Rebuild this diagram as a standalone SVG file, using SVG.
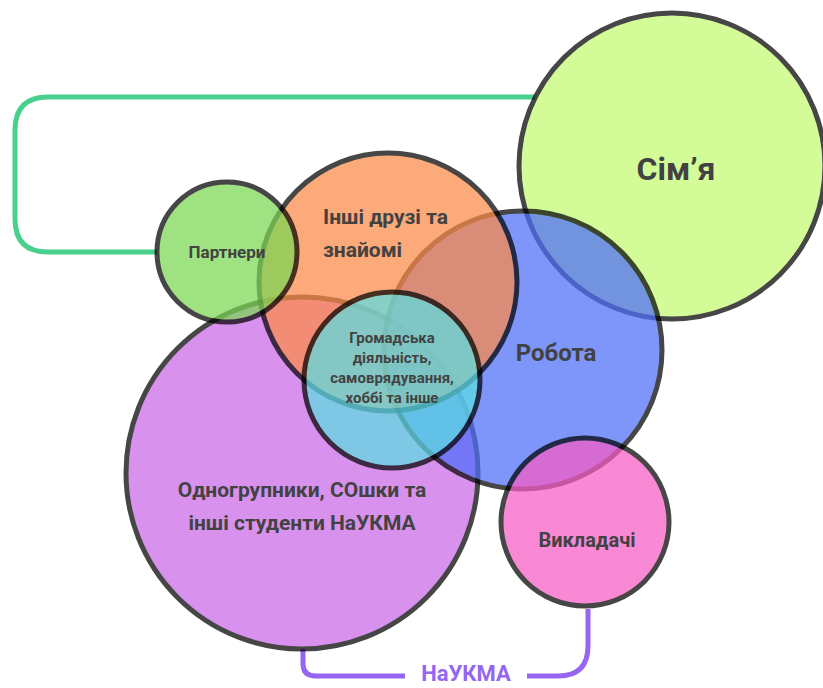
<svg xmlns="http://www.w3.org/2000/svg" width="823" height="688" viewBox="0 0 823 688">
<style>
.c{stroke:#000;stroke-width:5;opacity:0.72}
.t{font-family:Roboto,"Liberation Sans",sans-serif;font-weight:bold;fill:#424242}
.conn{fill:none;stroke-width:5;stroke-linecap:butt;stroke-linejoin:round}
</style>
<rect width="823" height="688" fill="#fff"/>
<g id="connectors">
<path class="conn" stroke="#48d08c" stroke-width="6" d="M535 97 H48 Q15 97 15 130 V219 Q15 252 48 252 H157"/>
<path class="conn" stroke="#9466f2" d="M303 649 V664 Q303 676 316 676 H405"/>
<path class="conn" stroke="#9466f2" d="M527 676 H558 Q588 676 588 646 V609"/>
<text class="t" x="466" y="681" font-size="22" text-anchor="middle" style="fill:#9466f2">НаУКМА</text>
</g>
<g id="simya">
<circle class="c" cx="672" cy="166" r="153" fill="#c3fb73"/>
<text class="t" x="676" y="180" font-size="32" text-anchor="middle">Сім’я</text>
</g>
<g id="odnogrupnyky">
<circle class="c" cx="302" cy="473" r="176" fill="#ca69e7"/>
<text class="t" x="302" y="497" font-size="21" text-anchor="middle">Одногрупники, СОшки та</text>
<text class="t" x="302" y="530" font-size="21" text-anchor="middle">інші студенти НаУКМА</text>
</g>
<g id="robota">
<circle class="c" cx="523" cy="350" r="139" fill="#4d6df9"/>
<text class="t" x="556" y="361" font-size="24" text-anchor="middle">Робота</text>
</g>
<g id="druzi">
<circle class="c" cx="388" cy="282" r="129" fill="#fc8a48"/>
<text class="t" x="323" y="224" font-size="21">Інші друзі та</text>
<text class="t" x="323" y="257" font-size="21">знайомі</text>
</g>
<g id="partnery">
<circle class="c" cx="227" cy="252" r="70" fill="#7bd753"/>
<text class="t" x="227" y="258" font-size="17" text-anchor="middle">Партнери</text>
</g>
<g id="hromadska">
<circle class="c" cx="392" cy="380" r="88" fill="#5cdee3"/>
<text class="t" x="392" y="343" font-size="15" text-anchor="middle">Громадська</text>
<text class="t" x="392" y="363" font-size="15" text-anchor="middle">діяльність,</text>
<text class="t" x="392" y="383" font-size="15" text-anchor="middle">самоврядування,</text>
<text class="t" x="392" y="403" font-size="15" text-anchor="middle">хоббі та інше</text>
</g>
<g id="vykladachi">
<circle class="c" cx="585" cy="522" r="84" fill="#f95cc6"/>
<text class="t" x="587" y="547" font-size="20" text-anchor="middle">Викладачі</text>
</g>
</svg>
